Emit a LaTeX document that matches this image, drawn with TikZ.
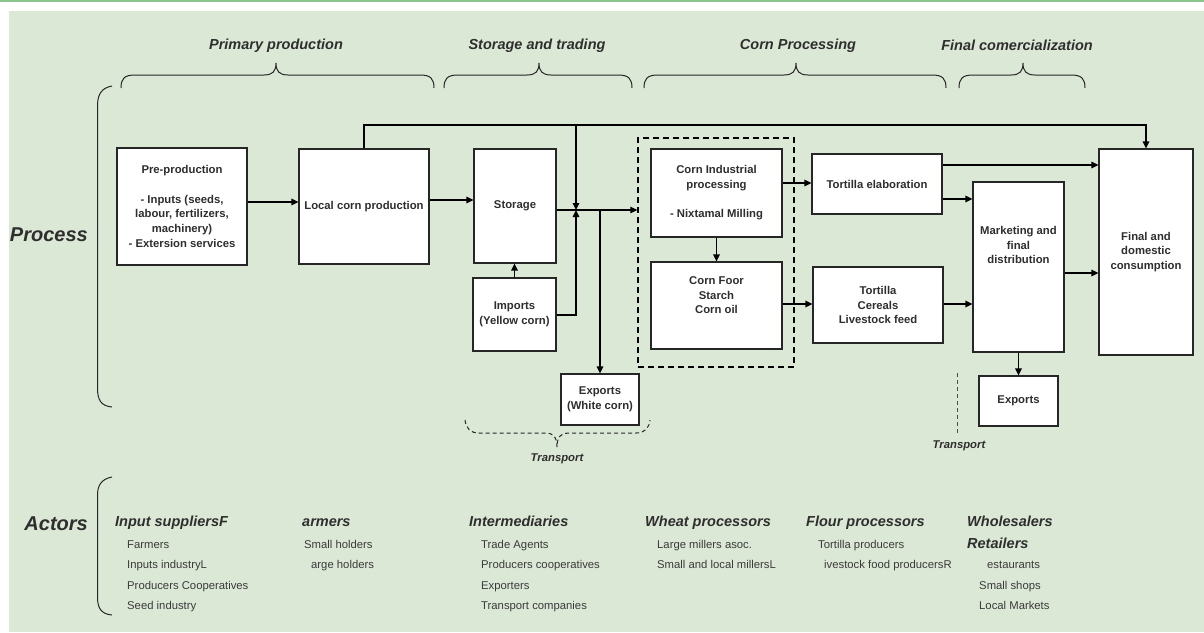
\documentclass[tikz,border=0pt]{standalone}
\usepackage{fontspec}
\setmainfont{Liberation Sans}
\usetikzlibrary{arrows.meta}
\definecolor{bg}{HTML}{DCE8D6}
\definecolor{topline}{HTML}{8CC48C}
\definecolor{txt}{HTML}{2E2E2E}
\definecolor{itm}{HTML}{3A3A3A}
\begin{document}
\begin{tikzpicture}[x=1pt,y=-1pt,
  box/.style={draw=black!85, line width=1.1pt, fill=white, align=center, text=txt,
    font=\fontsize{11.3}{14.7}\selectfont\bfseries, inner sep=2pt},
  arr/.style={-{Triangle[length=7pt,width=6.5pt]}, line width=1.2pt, draw=black},
  ln/.style={line width=1.2pt, draw=black},
  hdr/.style={font=\fontsize{14.5}{17}\selectfont\bfseries\itshape, text=txt},
  big/.style={font=\fontsize{20}{24}\selectfont\bfseries\itshape, text=txt, anchor=base east, inner sep=0pt},
  ahead/.style={font=\fontsize{14.5}{17}\selectfont\bfseries\itshape, text=txt, anchor=base west, inner sep=0pt},
  item/.style={font=\fontsize{11.3}{14}\selectfont, text=itm, anchor=base west, inner sep=0pt},
  brace/.style={line width=1pt, draw=black!85},
  trl/.style={font=\fontsize{11.3}{14}\selectfont\bfseries\itshape, text=txt},
  dbox/.style={draw=black, dashed, line width=1.3pt, dash pattern=on 6pt off 4pt}
]
\useasboundingbox (0,0) rectangle (1204,632);
\fill[white] (0,0) rectangle (1204,632);
\fill[bg] (9,11) rectangle (1204,632);
\fill[topline] (0,0) rectangle (1204,2);

% headers
\node[hdr] (h1) at (276,46) {Primary production};
\node[hdr] (h2) at (537,46) {Storage and trading};
\node[hdr] (h3) at (798,46) {Corn Processing};
\node[hdr] (h4) at (1017,45) {Final comercialization};

% header braces
\foreach \a/\m/\b in {121/276/434, 444/539/632, 644/796/946, 959/1023/1085}{
  \draw[brace] (\a,88) .. controls (\a,79) and (\a+3,75) .. (\a+14,75) -- (\m-12,75)
    .. controls (\m-3,75) and (\m,71) .. (\m,63) .. controls (\m,71) and (\m+3,75) .. (\m+12,75)
    -- (\b-14,75) .. controls (\b-3,75) and (\b,79) .. (\b,88);
}

% side labels and braces
\node[big] (proc) at (88,241) {Process};
\node[big] (act) at (88,530) {Actors};
\draw[brace] (112,86) .. controls (101,88) and (97.5,95) .. (97.5,106) -- (97.5,388)
  .. controls (97.5,400) and (101,406) .. (112,407);
\draw[brace] (112,477) .. controls (101,479) and (97.5,486) .. (97.5,495) -- (97.5,597)
  .. controls (97.5,608) and (101,614) .. (112,615);

% dashed group box
\node[dbox, minimum width=156pt, minimum height=229pt] (grp) at (716,252.5) {};

% boxes
\node[box, minimum width=130pt, minimum height=117pt] (pre) at (182,206.5)
  {Pre-production\\[14.7pt]- Inputs (seeds,\\labour, fertilizers,\\machinery)\\- Extersion services};
\node[box, minimum width=130pt, minimum height=115pt] (local) at (364,206.5) {Local corn production};
\node[box, minimum width=82pt, minimum height=114pt] (stor) at (515,206) {Storage};
\node[box, minimum width=83pt, minimum height=73pt] (imp) at (514.5,314.5) {Imports\\(Yellow corn)};
\node[box, minimum width=78pt, minimum height=51pt] (expw) at (600,399.5) {Exports\\(White corn)};
\node[box, minimum width=131pt, minimum height=88pt] (cip) at (716.5,193)
  {Corn Industrial\\processing\\[14.7pt]- Nixtamal Milling};
\node[box, minimum width=131pt, minimum height=87pt] (cf) at (716.5,305.5)
  {Corn Foor\\Starch\\Corn oil\\[6pt]};
\node[box, minimum width=130pt, minimum height=60pt] (te) at (877,184) {Tortilla elaboration};
\node[box, minimum width=130pt, minimum height=76pt] (tcl) at (878,305) {Tortilla\\Cereals\\Livestock feed};
\node[box, minimum width=91pt, minimum height=170pt] (mkt) at (1018.5,267)
  {Marketing and\\final\\distribution\\[29.4pt]};
\node[box, minimum width=94pt, minimum height=206pt] (fin) at (1146,252) {Final and\\domestic\\consumption};
\node[box, minimum width=79pt, minimum height=50pt] (exp) at (1018.5,401) {Exports};

% connectors
\coordinate (j) at (576,210);
\coordinate (k) at (600,210);
\draw[arr] (pre.east |- 0,202) -- (local.west |- 0,202);
\draw[arr] (local.east |- 0,200) -- (stor.west |- 0,200);
\draw[arr] (stor.east |- 0,210) -- (grp.west |- 0,210);
\draw[arr] (local.north) -- (local.north |- 0,125) -| (fin.north);
\draw[arr] (j |- 0,125) -- (j);
\draw[arr] (imp.east |- 0,315) -| (j);
\draw[arr] (imp.north) -- (imp.north |- stor.south);
\draw[arr] (k) -- (expw.north);
\draw[arr] (cip.south) -- (cf.north);
\draw[arr] (cip.east |- 0,183) -- (te.west |- 0,183);
\draw[arr] (cf.east |- 0,304) -- (tcl.west |- 0,304);
\draw[arr] (te.east |- 0,165) -- (fin.west |- 0,165);
\draw[arr] (te.east |- 0,199) -- (mkt.west |- 0,199);
\draw[arr] (tcl.east |- 0,304) -- (mkt.west |- 0,304);
\draw[arr] (mkt.east |- 0,273) -- (fin.west |- 0,273);
\draw[arr] (mkt.south) -- (exp.north);

% transport
\draw[brace, dashed, dash pattern=on 4pt off 3pt] (465,420) .. controls (466,428) and (470,433) .. (479,433) -- (546,433)
  .. controls (553,433) and (557,437) .. (557,447) .. controls (557,437) and (561,433) .. (568,433)
  -- (636,433) .. controls (645,433) and (649,428) .. (650,420);
\node[trl] (t1) at (557,459) {Transport};
\draw[dashed, dash pattern=on 4pt off 3pt, line width=1pt, draw=black!70] (957,373) -- (957,433);
\node[trl] (t2) at (959,446) {Transport};

% actors
\node[ahead] (a1) at (115,526) {Input suppliersF};
\node[item] (a1i1) at (127,548) {Farmers};
\node[item] (a1i2) at (127,568.5) {Inputs industryL};
\node[item] (a1i3) at (127,589) {Producers Cooperatives};
\node[item] (a1i4) at (127,609) {Seed industry};
\node[ahead] (a2) at (302,526) {armers};
\node[item] (a2i1) at (304,548) {Small holders};
\node[item] (a2i2) at (311,568.5) {arge holders};
\node[ahead] (a3) at (469,526) {Intermediaries};
\node[item] (a3i1) at (481,548) {Trade Agents};
\node[item] (a3i2) at (481,568.5) {Producers cooperatives};
\node[item] (a3i3) at (481,589) {Exporters};
\node[item] (a3i4) at (481,609) {Transport companies};
\node[ahead] (a4) at (645,526) {Wheat processors};
\node[item] (a4i1) at (657,548) {Large millers asoc.};
\node[item] (a4i2) at (657,568.5) {Small and local millersL};
\node[ahead] (a5) at (806,526) {Flour processors};
\node[item] (a5i1) at (818,548) {Tortilla producers};
\node[item] (a5i2) at (824,568.5) {ivestock food producersR};
\node[ahead] (a6) at (967,526) {Wholesalers};
\node[ahead] (a6b) at (967,548) {Retailers};
\node[item] (a6i1) at (987,568.5) {estaurants};
\node[item] (a6i2) at (979,589) {Small shops};
\node[item] (a6i3) at (979,609) {Local Markets};
\end{tikzpicture}
\end{document}
